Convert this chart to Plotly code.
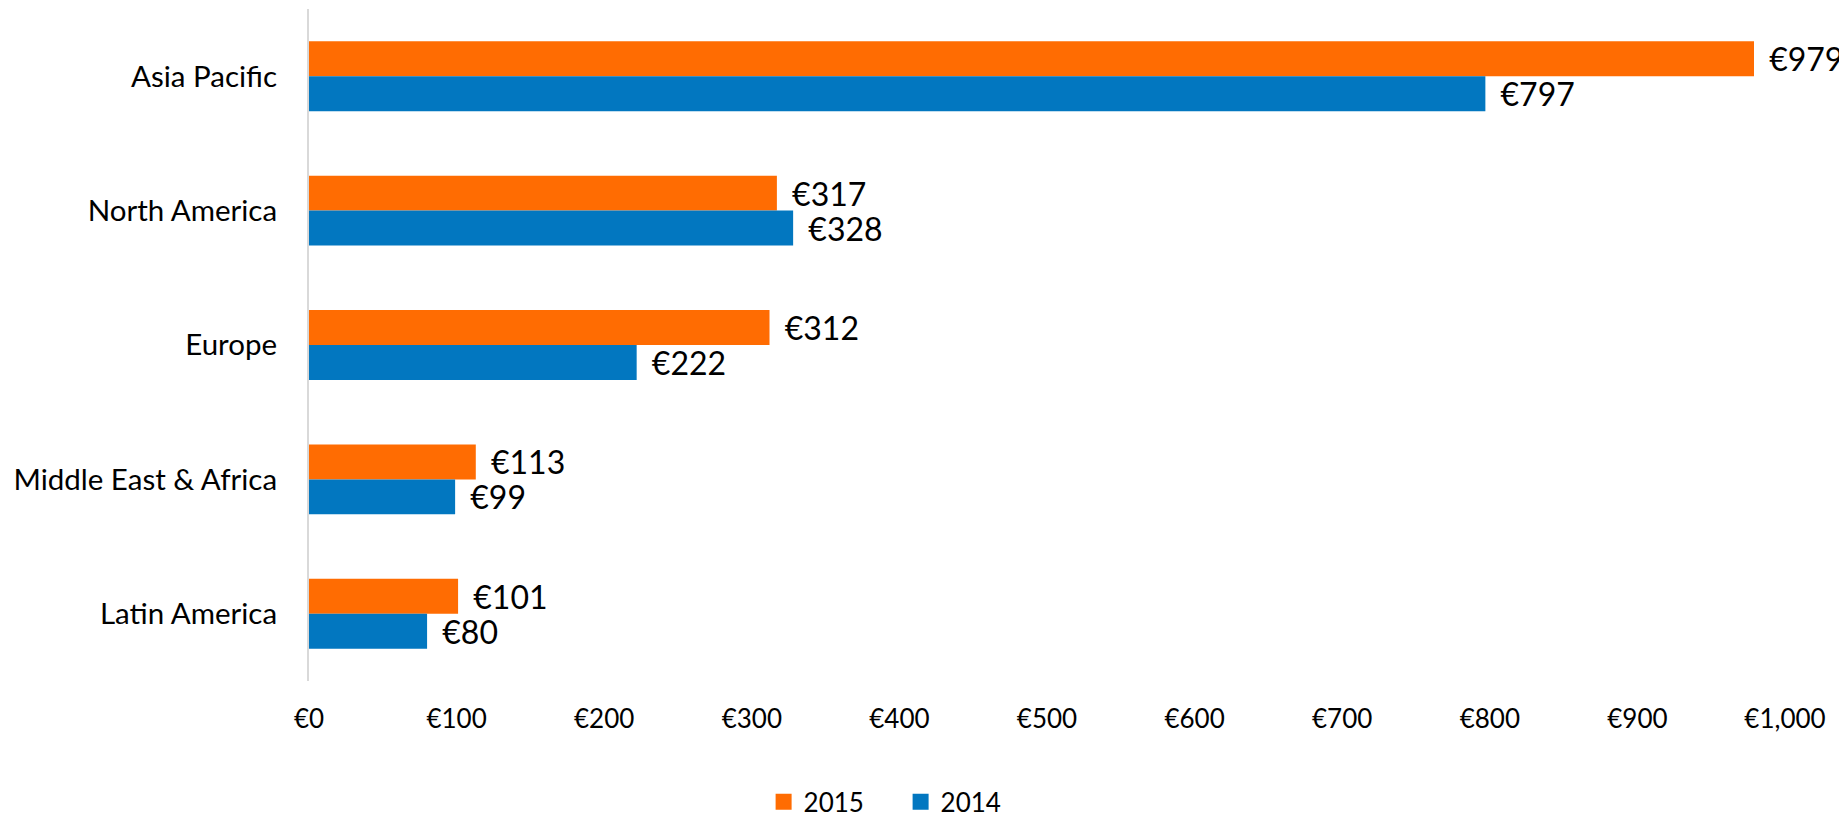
import plotly.graph_objects as go

regions = ["Asia Pacific", "North America", "Europe", "Middle East & Africa", "Latin America"]
values_2015 = [979, 317, 312, 113, 101]
values_2014 = [797, 328, 222, 99, 80]
x_ticks = [0, 100, 200, 300, 400, 500, 600, 700, 800, 900, 1000]
x_tick_labels = ["€0", "€100", "€200", "€300", "€400", "€500", "€600", "€700", "€800", "€900", "€1,000"]

ORANGE = "#FF6C02"
BLUE = "#0277C0"
FONT = "Lato"

fig = go.Figure()
for name, vals, color in [("2015", values_2015, ORANGE), ("2014", values_2014, BLUE)]:
    fig.add_trace(go.Bar(
        y=regions, x=vals, name=name, orientation="h", showlegend=False,
        legendgroup=name,
        marker=dict(color=color, line=dict(width=0)),
        text=[f" \u2009€{v:,}" for v in vals],
        textposition="outside", cliponaxis=False, constraintext="none",
        textfont=dict(family=FONT, size=32, color="#000000"),
    ))
# legend-only entries with larger square swatches
for name, color in [("2015", ORANGE), ("2014", BLUE)]:
    fig.add_trace(go.Scatter(
        x=[None], y=[None], mode="markers", name=name, legendgroup=name,
        marker=dict(symbol="square", size=19, color=color),
        showlegend=True, hoverinfo="skip",
    ))

fig.update_layout(
    width=1847, height=816,
    margin=dict(l=301, r=70, t=1, b=143, autoexpand=False),
    paper_bgcolor="white", plot_bgcolor="white",
    barmode="group", bargap=0.48, bargroupgap=0,
    font=dict(family=FONT, color="#000000"),
    showlegend=True,
    legend=dict(orientation="h", x=0.308, xanchor="left", y=-0.18, yanchor="middle",
                font=dict(family=FONT, size=26), entrywidth=92, entrywidthmode="pixels",
                itemwidth=30, traceorder="normal"),
)
fig.update_xaxes(range=[0, 1000], tickvals=x_ticks, ticktext=x_tick_labels,
                 showgrid=False, zeroline=False, showline=False, ticks="",
                 automargin=False,
                 tickfont=dict(family=FONT, size=26), ticklabelstandoff=20)
fig.update_yaxes(autorange="reversed", showgrid=False, zeroline=False,
                 showline=True, linecolor="#D9D9D9", linewidth=2, ticks="",
                 automargin=False,
                 tickfont=dict(family=FONT, size=29.5), ticklabelstandoff=24)

fig.write_html("out.html")
